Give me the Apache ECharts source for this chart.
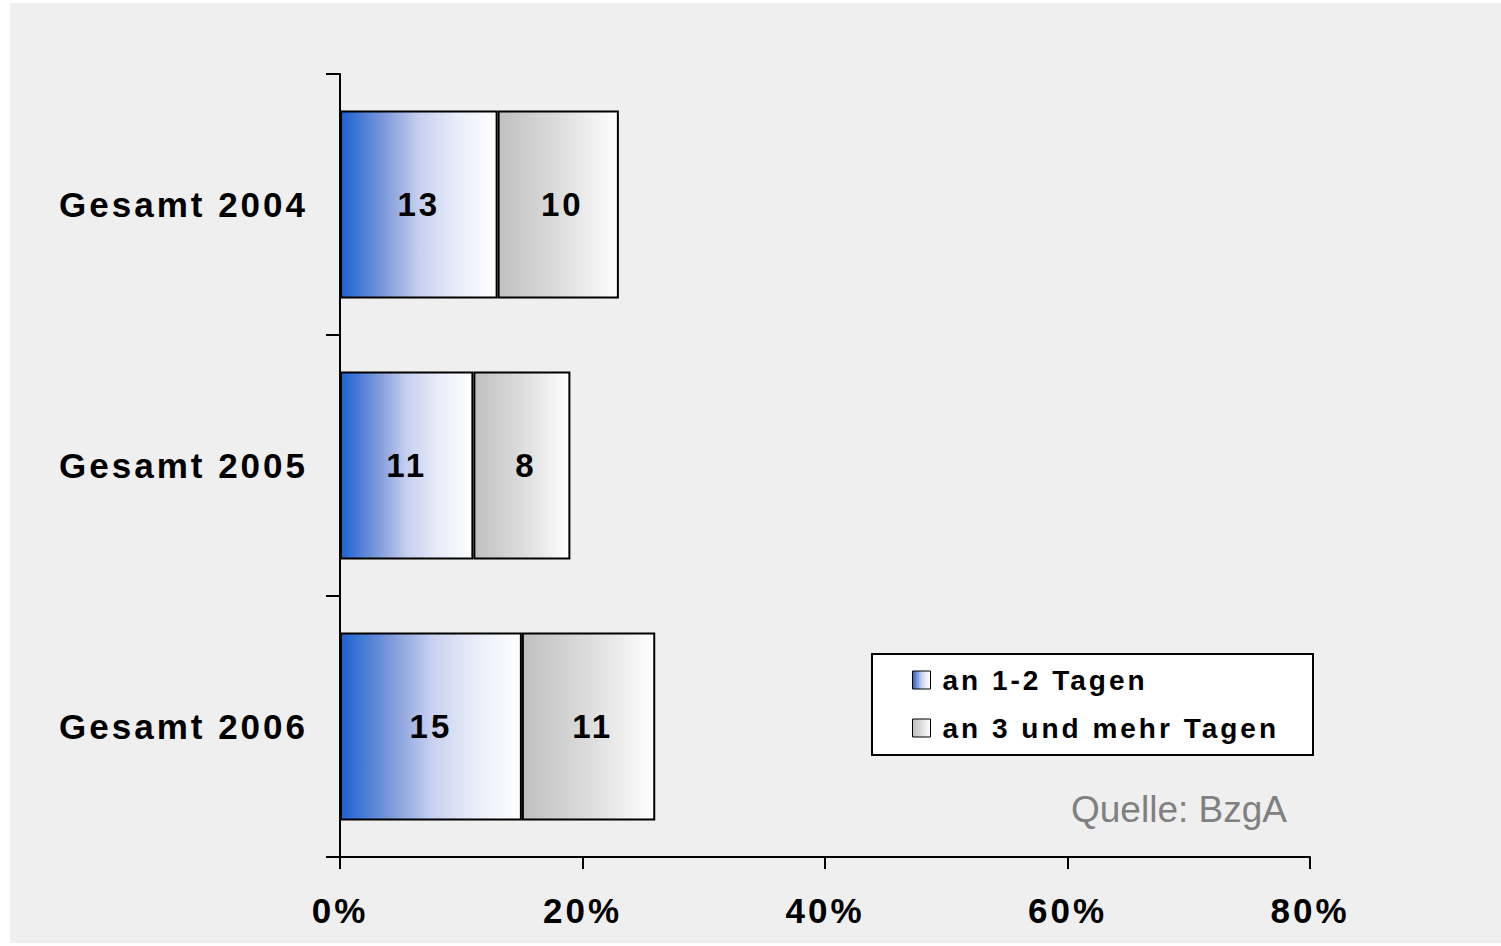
<!DOCTYPE html>
<html>
<head>
<meta charset="utf-8">
<script src="https://cdn.jsdelivr.net/npm/echarts@6/dist/echarts.min.js"></script>
<style>
  html, body { margin: 0; padding: 0; background: #ffffff; }
  #chart { width: 1501px; height: 946px; }
  #chart text { letter-spacing: 3px; }
  #chart text[style*="Arial"] { letter-spacing: 0; }
</style>
</head>
<body>
<div id="chart"></div>
<script>
const categories = ['Gesamt 2004', 'Gesamt 2005', 'Gesamt 2006'];
const seriesNames = ['an 1-2 Tagen', 'an 3 und mehr Tagen'];
const days12 = [13, 11, 15];
const days3plus = [10, 8, 11];
const xTicks = { min: 0, max: 80, interval: 20 };
const sourceText = 'Quelle: BzgA';

const blueGrad = new echarts.graphic.LinearGradient(0, 0, 1, 0, [
  { offset: 0, color: '#1b62cf' },
  { offset: 0.3, color: '#859edc' },
  { offset: 0.5, color: '#c6cfee' },
  { offset: 0.75, color: '#eaedf9' },
  { offset: 1, color: '#ffffff' }
]);
const grayGrad = new echarts.graphic.LinearGradient(0, 0, 1, 0, [
  { offset: 0, color: '#c0c0c0' },
  { offset: 0.5, color: '#dcdcdc' },
  { offset: 1, color: '#ffffff' }
]);

const chart = echarts.init(document.getElementById('chart'), null, { renderer: 'svg' });
const font = 'Liberation Sans';
const labelStyle = {
  show: true, position: 'inside', color: '#000', fontFamily: font,
  fontWeight: 'bold', fontSize: 33
};

chart.setOption({
  animation: false,
  backgroundColor: '#ffffff',
  graphic: [
    { type: 'rect', z: -10, silent: true, shape: { x: 10, y: 3, width: 1491, height: 940 },
      style: { fill: '#efefef' } },
    { type: 'rect', z: 5, silent: true, shape: { x: 872, y: 654, width: 441, height: 101 },
      style: { fill: '#ffffff', stroke: '#000000', lineWidth: 2 } },
    { type: 'text', z: 10, left: 1071, top: 791,
      style: { text: sourceText, fill: '#808080', fontFamily: 'Arial, Liberation Sans',
               fontSize: 37, fontWeight: 'normal' } }
  ],
  grid: { left: 340, right: 191, top: 74, bottom: 89, containLabel: false },
  legend: {
    orient: 'vertical', left: 912, top: 666, padding: 0, z: 20,
    itemWidth: 18, itemHeight: 18, itemGap: 20,
    icon: 'rect',
    itemStyle: { borderColor: '#000', borderWidth: 1 },
    textStyle: { color: '#000', fontFamily: font, fontWeight: 'bold', fontSize: 28, lineHeight: 28,
                 padding: [0, 0, 0, 7] },
    data: seriesNames
  },
  xAxis: {
    type: 'value', min: xTicks.min, max: xTicks.max, interval: xTicks.interval,
    axisLine: { show: true, lineStyle: { color: '#000', width: 2 } },
    axisTick: { show: true, length: 12, lineStyle: { color: '#000', width: 2 } },
    splitLine: { show: false },
    axisLabel: {
      formatter: '{value}%', color: '#000', fontFamily: font, fontWeight: 'bold',
      fontSize: 35, margin: 36
    }
  },
  yAxis: {
    type: 'category', data: categories, inverse: true,
    axisLine: { show: true, lineStyle: { color: '#000', width: 2 } },
    axisTick: { show: true, length: 14, interval: 0, lineStyle: { color: '#000', width: 2 } },
    axisLabel: {
      color: '#000', fontFamily: font, fontWeight: 'bold', fontSize: 35, margin: 32
    }
  },
  series: [
    {
      name: seriesNames[0], type: 'bar', stack: 'total', data: days12, barWidth: 188,
      itemStyle: { color: blueGrad, borderColor: '#000', borderWidth: 2 },
      label: labelStyle
    },
    {
      name: seriesNames[1], type: 'bar', stack: 'total', data: days3plus, barWidth: 188,
      itemStyle: { color: grayGrad, borderColor: '#000', borderWidth: 2 },
      label: Object.assign({}, labelStyle, { offset: [4, 0] })
    }
  ]
});
</script>
</body>
</html>
